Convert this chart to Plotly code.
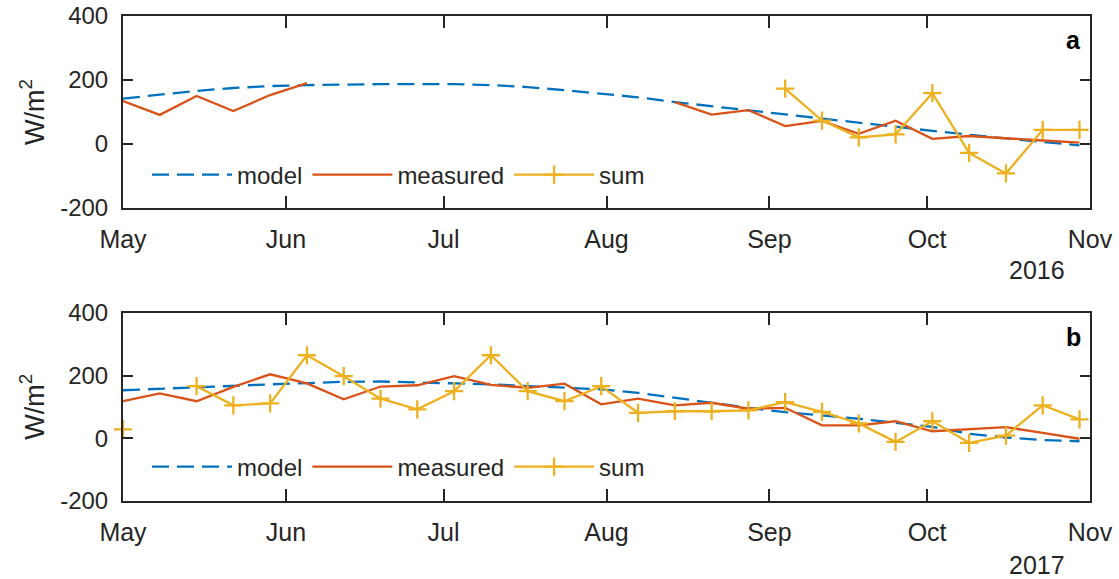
import pandas as pd
import plotly.graph_objects as go

# Weekly sampling dates for each season
dates_2016 = pd.date_range("2016-05-01", periods=27, freq="7D")
dates_2017 = pd.date_range("2017-05-01", periods=27, freq="7D")

# Panel a (2016), W/m^2
model_2016 = [142, 155, 166, 175, 181, 184, 186, 187, 187, 187, 184, 178, 168, 156,
              146, 131, 118, 106, 92, 78, 66, 53, 41, 29, 17, 6, -4]
measured_2016 = [134, 91, 150, 103, 153, 190, None, None, None, None, None, None, None, None,
                 None, 131, 92, 106, 56, 72, 32, 73, 16, 25, 17, 11, 4]
sum_2016 = [None] * 18 + [173, 73, 21, 30, 159, -28, -92, 44, 44]

# Panel b (2017), W/m^2
model_2017 = [153, 158, 164, 168, 172, 176, 180, 181, 179, 175, 172, 166, 161, 156,
              145, 129, 112, 97, 83, 73, 62, 49, 36, 14, 2, -6, -10]
measured_2017 = [118, 143, 118, 164, 204, 175, 124, 165, 169, 198, 170, 161, 174, 108,
                 126, 105, 113, 94, 97, 41, 41, 54, 22, 28, 35, 17, -2]
sum_2017 = [28, None, 166, 105, 111, 265, 198, 126, 92, 150, 265, 150, 118, 166,
            81, 86, 86, 89, 115, 84, 47, -12, 54, -15, 8, 105, 60]

# Axis labelling
y_ticks = [-200, 0, 200, 400]
y_tick_text = ["-200", "0", "200", "400"]
series_names = ["model", "measured", "sum"]

BLUE = "#0072BD"
ORANGE = "#D95319"
YELLOW = "#EDB120"
AXIS = "#262626"
FONT = "Liberation Sans, Arial, sans-serif"

fig = go.Figure()


def add_panel(dates, model, measured, total, xa, ya, legend):
    fig.add_trace(go.Scatter(
        x=dates, y=model, name=series_names[0], mode="lines",
        line=dict(color=BLUE, width=2.3, dash="17px,8px"),
        xaxis=xa, yaxis=ya, legend=legend))
    fig.add_trace(go.Scatter(
        x=dates, y=measured, name=series_names[1], mode="lines",
        line=dict(color=ORANGE, width=2.3),
        xaxis=xa, yaxis=ya, legend=legend))
    fig.add_trace(go.Scatter(
        x=dates, y=total, name=series_names[2], mode="lines+markers",
        line=dict(color=YELLOW, width=2.3),
        marker=dict(symbol="cross-thin", size=13, line=dict(color=YELLOW, width=2.3)),
        cliponaxis=False,
        xaxis=xa, yaxis=ya, legend=legend))


add_panel(dates_2016, model_2016, measured_2016, sum_2016, "x", "y", "legend")
add_panel(dates_2017, model_2017, measured_2017, sum_2017, "x2", "y2", "legend2")

x_dom = [123 / 1119, 1090 / 1119]
top_dom = [1 - 208 / 579, 1 - 16 / 579]
bot_dom = [1 - 500.7 / 579, 1 - 313 / 579]


def x_axis(year, dom, anchor):
    return dict(
        type="date", domain=dom, anchor=anchor,
        range=[f"{year}-05-01", f"{year}-11-01"],
        tick0=f"{year}-05-01", dtick="M1", tickformat="%b",
        ticks="inside", ticklen=12, tickwidth=1.5, tickcolor=AXIS,
        showline=True, linecolor=AXIS, linewidth=2, mirror="ticks",
        showgrid=False, zeroline=False,
        tickfont=dict(family=FONT, size=25, color=AXIS),
        ticklabelstandoff=8,
    )


def y_axis(dom, anchor):
    return dict(
        domain=dom, anchor=anchor, range=[-200, 400],
        tickmode="array", tickvals=y_ticks, ticktext=y_tick_text,
        ticks="inside", ticklen=10, tickwidth=1.5, tickcolor=AXIS,
        showline=True, linecolor=AXIS, linewidth=2, mirror="ticks",
        showgrid=False, zeroline=False,
        tickfont=dict(family=FONT, size=24, color=AXIS),
        ticklabelstandoff=8,
        title=dict(text="W/m<sup>2</sup>", standoff=8,
                   font=dict(family=FONT, size=27, color=AXIS)),
    )


legend_style = dict(
    orientation="h", xanchor="left", yanchor="middle", x=147 / 1119,
    bgcolor="rgba(0,0,0,0)", itemwidth=80, tracegroupgap=0,
    font=dict(family=FONT, size=24, color=AXIS),
)


def note(text, x, y, size, color, bold=False):
    return dict(text=f"<b>{text}</b>" if bold else text,
                x=x / 1119, y=1 - y / 579, xref="paper", yref="paper",
                xanchor="center", yanchor="middle", showarrow=False,
                font=dict(family=FONT, size=size, color=color))


fig.update_layout(
    width=1119, height=579,
    margin=dict(l=0, r=0, t=0, b=0, autoexpand=False),
    paper_bgcolor="white", plot_bgcolor="white",
    xaxis=x_axis(2016, x_dom, "y"),
    yaxis=y_axis(top_dom, "x"),
    xaxis2=x_axis(2017, x_dom, "y2"),
    yaxis2=y_axis(bot_dom, "x2"),
    legend=dict(legend_style, y=1 - 175 / 579),
    legend2=dict(legend_style, y=1 - 467 / 579),
    annotations=[
        note("a", 1073, 40, 25, "black", bold=True),
        note("b", 1073, 337, 25, "black", bold=True),
        note("2016", 1037, 270, 25, AXIS),
        note("2017", 1037, 565, 25, AXIS),
    ],
)

fig.write_html("out.html")
